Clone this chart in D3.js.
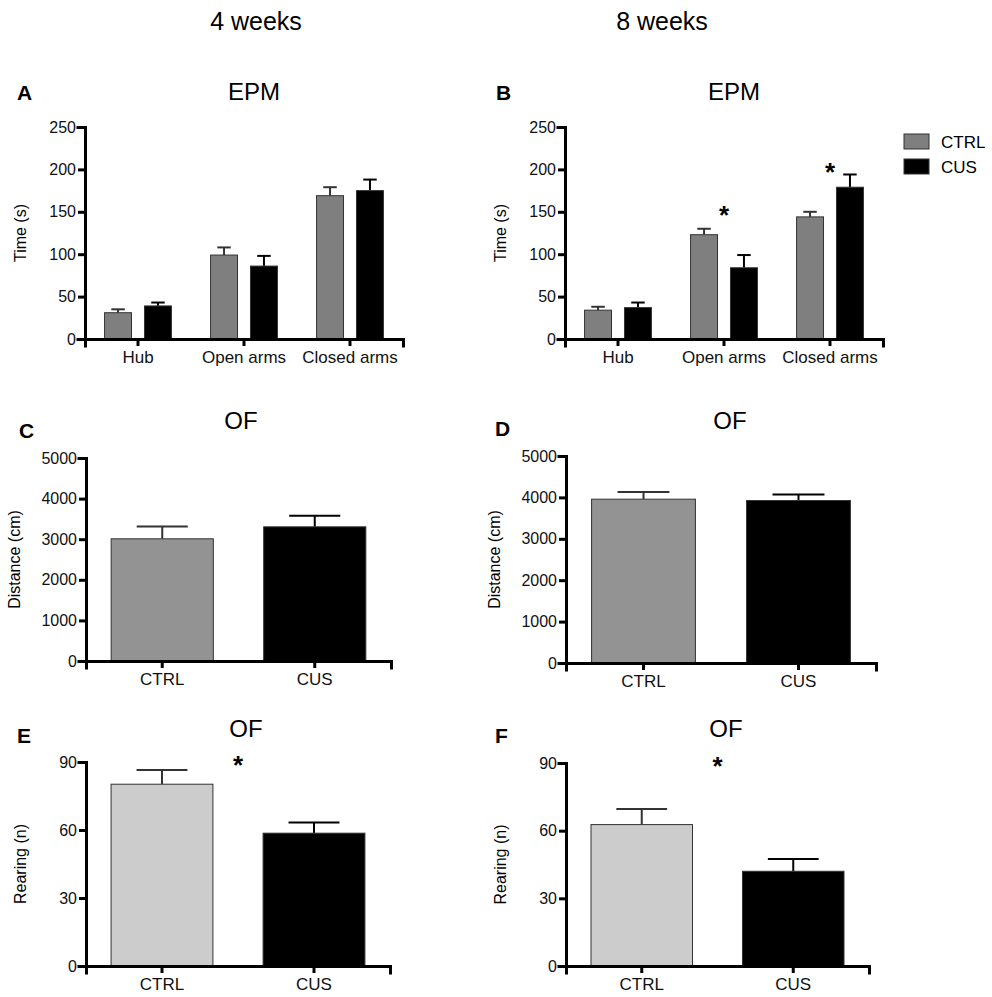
<!DOCTYPE html>
<html>
<head>
<meta charset="utf-8">
<script src="https://cdn.jsdelivr.net/npm/d3@7"></script>
<style>
  body { margin: 0; background: #fff; }
  svg text { font-family: "Liberation Sans", Arial, sans-serif; }
</style>
</head>
<body>
<div id="wrapper"></div>
<script>
// ---- data ----
const groups = ["CTRL", "CUS"];
const epmCats = ["Hub", "Open arms", "Closed arms"];
const ofCats = ["CTRL", "CUS"];

const epm4Ctrl = [31, 99, 169];
const epm4CtrlSem = [4, 9, 10];
const epm4Cus = [39, 86, 175];
const epm4CusSem = [4, 12, 13];

const epm8Ctrl = [34, 123, 144];
const epm8CtrlSem = [4, 7, 6];
const epm8Cus = [37, 84, 179];
const epm8CusSem = [6, 15, 15];

const dist4 = [3010, 3305];
const dist4Sem = [300, 270];
const dist8 = [3957, 3925];
const dist8Sem = [176, 144];

const rear4 = [80.2, 58.6];
const rear4Sem = [6.3, 4.7];
const rear8 = [62.7, 42];
const rear8Sem = [6.9, 5.4];

const epmTicks = [0, 50, 100, 150, 200, 250];
const distTicks = [0, 1000, 2000, 3000, 4000, 5000];
const rearTicks = [0, 30, 60, 90];

// significance marks (category, height in data units)
const sigB = [["Open arms", 152], ["Closed arms", 203]];
const sigE = [91];
const sigF = [91];

const width = 992, height = 997;

const svg = d3.select("#wrapper").append("svg")
    .attr("width", width)
    .attr("height", height);

// column headers
svg.append("text").attr("x", 256).attr("y", 30).attr("text-anchor", "middle")
    .style("font-size", "25px").text("4 weeks");
svg.append("text").attr("x", 662).attr("y", 30).attr("text-anchor", "middle")
    .style("font-size", "25px").text("8 weeks");

function frame(p) {
    let g = svg.append("g");
    let y = d3.scaleLinear().domain(p.domain).range([p.y0, p.y1]);

    g.append("text") // panel letter
        .attr("x", p.letterX).attr("y", p.letterY)
        .style("font-size", "21px").style("font-weight", "bold")
        .text(p.letter);
    g.append("text") // title
        .attr("x", p.titleX).attr("y", p.titleY)
        .attr("text-anchor", "middle")
        .style("font-size", "24px")
        .text(p.title);
    g.append("text") // y label
        .attr("text-anchor", "middle")
        .attr("transform", `translate(${p.x0 - p.ylabOff}, ${(p.y0 + p.y1) / 2}) rotate(-90)`)
        .style("font-size", "16px")
        .text(p.ylab);
    return {g, y};
}

function axes(g, x, y, p) {
    const yAxis = g.append("g")
        .attr("transform", `translate(${p.x0},0)`)
        .call(d3.axisLeft(y).tickValues(p.ticks).tickFormat(d3.format("d"))
            .tickSizeOuter(0).tickSize(7).tickPadding(2));
    const xAxis = g.append("g")
        .attr("transform", `translate(0,${p.y0})`)
        .call(d3.axisBottom(x).tickSizeOuter(0).tickSize(7).tickPadding(5));
    [yAxis, xAxis].forEach(a => {
        a.attr("font-family", null).attr("font-size", null);
        a.select(".domain").attr("stroke", "#000").attr("stroke-width", 3).attr("stroke-linecap", "square");
        a.selectAll(".tick line").attr("stroke", "#000").attr("stroke-width", 3);
    });
    yAxis.selectAll(".tick text").style("font-size", "16px").attr("fill", "#111");
    xAxis.selectAll(".tick text").style("font-size", "17px").attr("fill", "#111");
}

function errorBar(g, cx, w, top, bottom, color) {
    g.append("line").attr("x1", cx).attr("x2", cx).attr("y1", bottom).attr("y2", top)
        .attr("stroke", color).attr("stroke-width", 2);
    g.append("line").attr("x1", cx - w / 2).attr("x2", cx + w / 2).attr("y1", top).attr("y2", top)
        .attr("stroke", color).attr("stroke-width", 2);
}

function star(g, x, y) {
    g.append("text").attr("x", x).attr("y", y + 14)
        .attr("text-anchor", "middle")
        .style("font-size", "26px").style("font-weight", "bold")
        .text("*");
}

function epmPanel(p, ctrl, ctrlSem, cus, cusSem, sig) {
    let {g, y} = frame(p);
    let x0 = d3.scaleBand().domain(epmCats).range([p.x0, p.x1]).padding(0);
    let x1 = d3.scaleBand().domain(groups).range([0, x0.bandwidth()])
        .paddingInner(0.325).paddingOuter(0.49);
    let rows = epmCats.map((c, i) => ({
        cat: c,
        vals: [
            {grp: "CTRL", v: ctrl[i], e: ctrlSem[i]},
            {grp: "CUS", v: cus[i], e: cusSem[i]}
        ]
    }));
    let fills = {CTRL: "#7f7f7f", CUS: "#000"};
    rows.forEach(r => {
        r.vals.forEach(d => {
            let bx = x0(r.cat) + x1(d.grp);
            let bw = x1.bandwidth();
            errorBar(g, bx + bw / 2, bw / 2, y(d.v + d.e), y(d.v), d.grp == "CTRL" ? "#333" : "#000");
            g.append("rect")
                .attr("x", bx).attr("y", y(d.v))
                .attr("width", bw).attr("height", y(0) - y(d.v))
                .attr("fill", fills[d.grp])
                .attr("stroke", "#333").attr("stroke-width", 1);
        });
    });
    axes(g, x0, y, p);
    if (sig) sig.forEach(s => star(g, x0(s[0]) + x0.bandwidth() / 2, y(s[1])));
    return g;
}

function ofPanel(p, vals, sems, ctrlFill, sig) {
    let {g, y} = frame(p);
    let x = d3.scaleBand().domain(ofCats).range([p.x0, p.x1])
        .paddingInner(0.33).paddingOuter(0.165);
    let fills = {CTRL: ctrlFill, CUS: "#000"};
    ofCats.forEach((c, i) => {
        let bw = x.bandwidth();
        errorBar(g, x(c) + bw / 2, bw / 2, y(vals[i] + sems[i]), y(vals[i]), c == "CTRL" ? "#333" : "#000");
        g.append("rect")
            .attr("x", x(c)).attr("y", y(vals[i]))
            .attr("width", bw).attr("height", y(0) - y(vals[i]))
            .attr("fill", fills[c])
            .attr("stroke", "#333").attr("stroke-width", 1);
    });
    axes(g, x, y, p);
    if (sig) sig.forEach(s => star(g, (p.x0 + p.x1) / 2, y(s)));
    return g;
}

// A
epmPanel({letter: "A", letterX: 17, letterY: 100, title: "EPM", titleX: 254, titleY: 100,
    ylab: "Time (s)", ylabOff: 59, x0: 85, x1: 403, y0: 339, y1: 127, domain: [0, 250], ticks: epmTicks},
    epm4Ctrl, epm4CtrlSem, epm4Cus, epm4CusSem, null);

// B
epmPanel({letter: "B", letterX: 496, letterY: 100, title: "EPM", titleX: 734, titleY: 100,
    ylab: "Time (s)", ylabOff: 59, x0: 565, x1: 883, y0: 339, y1: 127, domain: [0, 250], ticks: epmTicks},
    epm8Ctrl, epm8CtrlSem, epm8Cus, epm8CusSem, sigB);

// legend
const legend = svg.append("g").attr("transform", "translate(904,134)");
groups.forEach((grp, i) => {
    legend.append("rect").attr("x", 0).attr("y", i * 25).attr("width", 25).attr("height", 15)
        .attr("fill", grp == "CTRL" ? "#7f7f7f" : "#000").attr("stroke", "#333");
    legend.append("text").attr("x", 37).attr("y", i * 25 + 14)
        .style("font-size", "17px").text(grp);
});

// C
ofPanel({letter: "C", letterX: 19, letterY: 438, title: "OF", titleX: 241, titleY: 429,
    ylab: "Distance (cm)", ylabOff: 66, x0: 86, x1: 391, y0: 661, y1: 458, domain: [0, 5000], ticks: distTicks},
    dist4, dist4Sem, "#939393", null);

// D
ofPanel({letter: "D", letterX: 495, letterY: 436, title: "OF", titleX: 730, titleY: 429,
    ylab: "Distance (cm)", ylabOff: 66, x0: 566, x1: 876, y0: 663, y1: 456, domain: [0, 5000], ticks: distTicks},
    dist8, dist8Sem, "#939393", null);

// E
ofPanel({letter: "E", letterX: 17, letterY: 743, title: "OF", titleX: 246, titleY: 737,
    ylab: "Rearing (n)", ylabOff: 60, x0: 86, x1: 390, y0: 966, y1: 762, domain: [0, 90], ticks: rearTicks},
    rear4, rear4Sem, "#cccccc", sigE);

// F
ofPanel({letter: "F", letterX: 495, letterY: 743, title: "OF", titleX: 726, titleY: 737,
    ylab: "Rearing (n)", ylabOff: 60, x0: 566, x1: 869, y0: 966, y1: 763, domain: [0, 90], ticks: rearTicks},
    rear8, rear8Sem, "#cccccc", sigF);
</script>
</body>
</html>
